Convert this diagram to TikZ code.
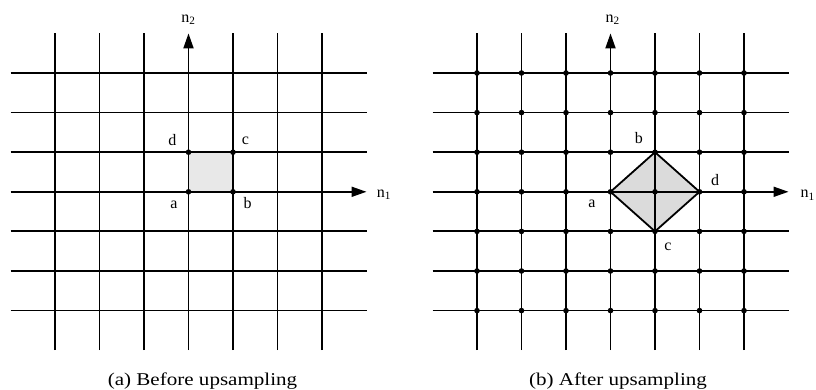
\documentclass[tikz,border=0pt]{standalone}
\usepackage{fontspec}
\setmainfont{Liberation Serif}
\usetikzlibrary{arrows.meta}

\begin{document}
\begin{tikzpicture}[
    x=1pt, y=1pt,
    gridline/.style={draw=black, line width=1.8pt},
    axis/.style={gridline, -{Triangle[length=15pt, width=10pt]}},
    lbl/.style={anchor=base, inner sep=0pt, font=\fontsize{16}{19}\selectfont},
    caption/.style={anchor=base, inner sep=0pt, font=\fontsize{18}{22}\selectfont}
]
    \useasboundingbox (0,0) rectangle (816,390);

    % --- (a) Before upsampling ---
    \begin{scope}[shift={(188.5,198.2)}, x=44.5pt, y=39.6pt]
        \coordinate (a1) at (0,0);
        \coordinate (b1) at (1,0);
        \coordinate (c1) at (1,1);
        \coordinate (d1) at (0,1);
        \fill[gray!18] (a1) rectangle (c1);
        \foreach \i in {-3,-2,-1,1,2,3} {
            \draw[gridline] (\i,-4) -- (\i,4);
            \draw[gridline] (-4,\i) -- (4,\i);
        }
        \draw[axis] (0,-4) -- (0,4);
        \draw[axis] (-4,0) -- (4,0);
        \foreach \p in {a1,b1,c1,d1}
            \fill (\p) circle[radius=2.8pt];

        \node[lbl] (la1) at (-0.33,-0.41) {a};
        \node[lbl] (lb1) at (1.33,-0.41) {b};
        \node[lbl] (lc1) at (1.28,1.19) {c};
        \node[lbl] (ld1) at (-0.36,1.18) {d};
        \node[lbl] (n2a) at (0,4.28) {n\textsubscript{2}};
        \node[lbl, anchor=base west] (n1a) at (4.23,-0.14) {n\textsubscript{1}};
    \end{scope}

    % --- (b) After upsampling ---
    \begin{scope}[shift={(610.5,198.2)}, x=44.5pt, y=39.6pt]
        \coordinate (a2) at (0,0);
        \coordinate (b2) at (1,1);
        \coordinate (c2) at (1,-1);
        \coordinate (d2) at (2,0);
        \fill[gray!28] (a2) -- (b2) -- (d2) -- (c2) -- cycle;
        \foreach \i in {-3,-2,-1,1,2,3} {
            \draw[gridline] (\i,-4) -- (\i,4);
            \draw[gridline] (-4,\i) -- (4,\i);
        }
        \draw[axis] (0,-4) -- (0,4);
        \draw[axis] (-4,0) -- (4,0);
        \draw[gridline, line join=miter] (a2) -- (b2) -- (d2) -- (c2) -- cycle;
        \foreach \i in {-3,...,3}
            \foreach \j in {-3,...,3}
                \fill (\i,\j) circle[radius=2.8pt];

        \node[lbl] (la2) at (-0.42,-0.39) {a};
        \node[lbl] (lb2) at (0.64,1.21) {b};
        \node[lbl] (lc2) at (1.29,-1.47) {c};
        \node[lbl] (ld2) at (2.35,0.17) {d};
        \node[lbl] (n2b) at (0.05,4.28) {n\textsubscript{2}};
        \node[lbl, anchor=base west] (n1b) at (4.27,-0.15) {n\textsubscript{1}};
    \end{scope}

    % --- Captions ---
    \node[caption] (capa) at (202.5,4.5) {\scalebox{1.17}[1]{(a) Before upsampling}};
    \node[caption] (capb) at (618,4.5) {\scalebox{1.17}[1]{(b) After upsampling}};

\end{tikzpicture}
\end{document}
